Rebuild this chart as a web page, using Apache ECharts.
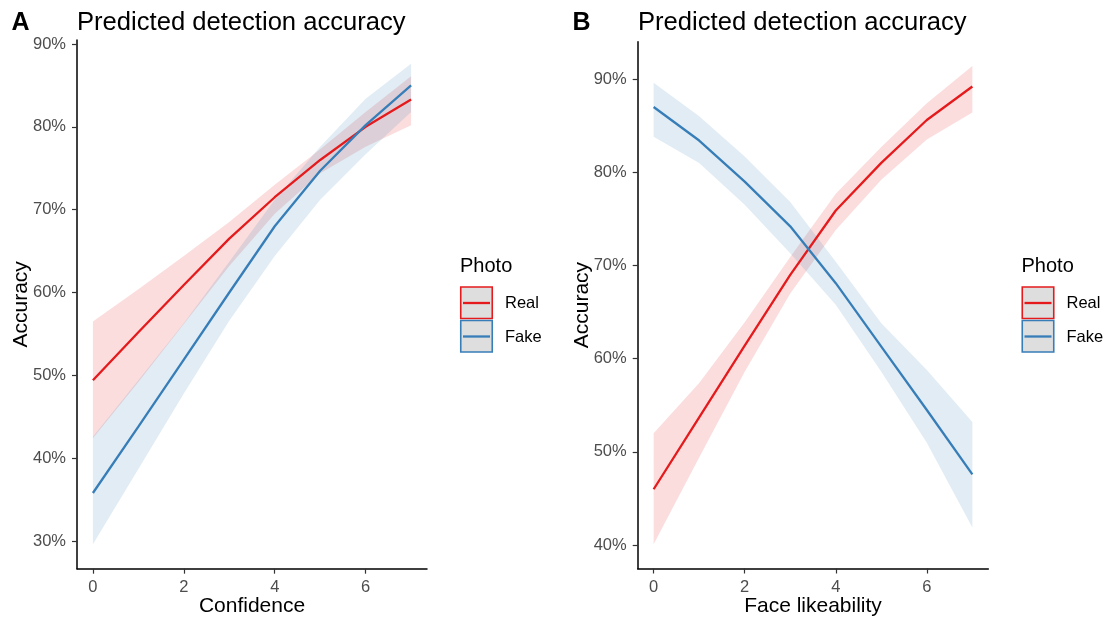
<!DOCTYPE html>
<html>
<head>
<meta charset="utf-8">
<script src="https://cdn.jsdelivr.net/npm/echarts@6/dist/echarts.min.js"></script>
<style>
html,body{margin:0;padding:0;background:#fff;}
#chart{width:1110px;height:622px;}
</style>
</head>
<body>
<div id="chart"></div>
<script>
// ---- data ----
const xs = [0, 1, 2, 3, 4, 5, 6, 7];
const xTicks = [0, 2, 4, 6];
const yTicksA = [30, 40, 50, 60, 70, 80, 90];
const yTicksB = [40, 50, 60, 70, 80, 90];
const legendNames = ['Real', 'Fake'];

// Panel A: Confidence
const realA    = [49.4, 55.2, 60.9, 66.5, 71.5, 76.0, 80.0, 83.3];
const realA_lo = [42.4, 49.2, 56.2, 63.2, 69.5, 74.4, 77.6, 80.2];
const realA_hi = [56.5, 60.4, 64.4, 68.5, 73.0, 77.3, 81.8, 86.1];
const fakeA    = [35.8, 43.8, 51.9, 60.0, 68.0, 74.7, 80.2, 85.0];
const fakeA_lo = [29.6, 38.7, 47.8, 56.6, 64.4, 71.2, 76.7, 81.8];
const fakeA_hi = [42.6, 49.4, 56.3, 63.7, 71.2, 77.6, 83.4, 87.6];

// Panel B: Face likeability
const realB    = [46.0, 53.7, 61.4, 69.0, 75.9, 81.0, 85.6, 89.2];
const realB_lo = [40.1, 49.4, 58.6, 67.0, 73.8, 79.2, 83.5, 86.4];
const realB_hi = [52.0, 57.4, 63.9, 70.9, 77.7, 82.7, 87.4, 91.4];
const fakeB    = [87.0, 83.4, 79.0, 74.2, 68.1, 61.3, 54.5, 47.6];
const fakeB_lo = [83.8, 81.0, 76.5, 71.3, 65.8, 58.6, 51.0, 41.9];
const fakeB_hi = [89.6, 86.0, 81.7, 76.8, 70.4, 63.8, 58.8, 53.2];

// ---- styling ----
const RED = '#E41A1C', BLUE = '#377EB8';
const RED_FILL = 'rgba(228,26,28,0.15)', BLUE_FILL = 'rgba(55,126,184,0.15)';
const FONT = 'Liberation Sans, Arial, sans-serif';

const pairs = (arr) => xs.map((x, i) => [x, arr[i]]);

function ribbon(idx, lo, hi, fill) {
  return {
    type: 'custom', xAxisIndex: idx, yAxisIndex: idx, silent: true, z: 1,
    data: xs.map((x, i) => [x, lo[i], hi[i]]),
    encode: { x: 0, y: [1, 2] },
    clip: true,
    renderItem: function (params, api) {
      if (params.dataIndex !== 0) return null;
      const pts = [];
      xs.forEach((x, i) => pts.push(api.coord([x, hi[i]])));
      for (let i = xs.length - 1; i >= 0; i--) pts.push(api.coord([xs[i], lo[i]]));
      return { type: 'polygon', shape: { points: pts }, style: { fill: fill, stroke: null } };
    }
  };
}
function mainLine(idx, arr, color) {
  return { type: 'line', xAxisIndex: idx, yAxisIndex: idx, data: pairs(arr),
    showSymbol: false, symbol: 'none', lineStyle: { color: color, width: 2.3 }, silent: true, z: 3 };
}

function xAxis(gridIndex, name) {
  return {
    type: 'value', gridIndex, min: -0.35, max: 7.35,
    name, nameLocation: 'middle', nameGap: 27, nameMoveOverlap: false,
    nameTextStyle: { fontFamily: FONT, fontSize: 21, color: '#000' },
    axisLine: { show: true, onZero: false, lineStyle: { color: '#000', width: 1.5 } },
    axisTick: { show: true, length: 5, customValues: xTicks, lineStyle: { color: '#333', width: 1.2 } },
    axisLabel: { customValues: xTicks, fontFamily: FONT, fontSize: 16.5, color: '#4D4D4D', margin: 10 },
    splitLine: { show: false }
  };
}
function yAxis(gridIndex, min, max, ticks) {
  return {
    type: 'value', gridIndex, min, max,
    name: 'Accuracy', nameLocation: 'middle', nameRotate: 90, nameGap: 45, nameMoveOverlap: false,
    nameTextStyle: { fontFamily: FONT, fontSize: 21, color: '#000' },
    axisLine: { show: true, onZero: false, lineStyle: { color: '#000', width: 1.5 } },
    axisTick: { show: true, length: 5, customValues: ticks, lineStyle: { color: '#333', width: 1.2 } },
    axisLabel: { customValues: ticks, fontFamily: FONT, fontSize: 16.5, color: '#4D4D4D', margin: 11,
      formatter: (v) => Math.round(v) + '%' },
    splitLine: { show: false }
  };
}

function legendGraphics(x0) {
  const els = [];
  els.push({ type: 'text', left: x0, top: 256, style: { text: 'Photo', font: '20px ' + FONT, fill: '#000' } });
  const cols = [RED, BLUE];
  legendNames.forEach((nm, i) => {
    const y = 287 + i * 33.5;
    els.push({ type: 'rect', shape: { x: x0 + 0.75, y: y, width: 31.5, height: 31.5 },
      style: { fill: '#DEDEDE', stroke: cols[i], lineWidth: 1.6 } });
    els.push({ type: 'line', shape: { x1: x0 + 3, y1: y + 16, x2: x0 + 30, y2: y + 16 },
      style: { stroke: cols[i], lineWidth: 2.3 } });
    els.push({ type: 'text', x: x0 + 45, y: y + 16.5,
      style: { text: nm, font: '16.5px ' + FONT, fill: '#000', verticalAlign: 'middle', align: 'left' } });
  });
  return els;
}

const chart = echarts.init(document.getElementById('chart'), null, { renderer: 'canvas' });
chart.setOption({
  animation: false,
  backgroundColor: '#fff',
  grid: [
    { left: 77, top: 40, width: 350, height: 528.7, outerBoundsMode: 'none', containLabel: false },
    { left: 637.7, top: 41.7, width: 350.6, height: 526.8, outerBoundsMode: 'none', containLabel: false }
  ],
  xAxis: [xAxis(0, 'Confidence'), xAxis(1, 'Face likeability')],
  yAxis: [yAxis(0, 26.66, 90.48, yTicksA), yAxis(1, 37.5, 94.0, yTicksB)],
  series: [
    ribbon(0, realA_lo, realA_hi, RED_FILL),
    ribbon(0, fakeA_lo, fakeA_hi, BLUE_FILL),
    mainLine(0, realA, RED),
    mainLine(0, fakeA, BLUE),
    ribbon(1, realB_lo, realB_hi, RED_FILL),
    ribbon(1, fakeB_lo, fakeB_hi, BLUE_FILL),
    mainLine(1, realB, RED),
    mainLine(1, fakeB, BLUE)
  ],
  graphic: [
    { type: 'text', x: 11.5, y: 23, style: { text: 'A', font: 'bold 25px ' + FONT, fill: '#000', verticalAlign: 'middle' } },
    { type: 'text', x: 77, y: 23, style: { text: 'Predicted detection accuracy', font: '25.6px ' + FONT, fill: '#000', verticalAlign: 'middle' } },
    { type: 'text', x: 572.5, y: 23, style: { text: 'B', font: 'bold 25px ' + FONT, fill: '#000', verticalAlign: 'middle' } },
    { type: 'text', x: 638, y: 23, style: { text: 'Predicted detection accuracy', font: '25.6px ' + FONT, fill: '#000', verticalAlign: 'middle' } },
    ...legendGraphics(460),
    ...legendGraphics(1021.5)
  ]
});
</script>
</body>
</html>
